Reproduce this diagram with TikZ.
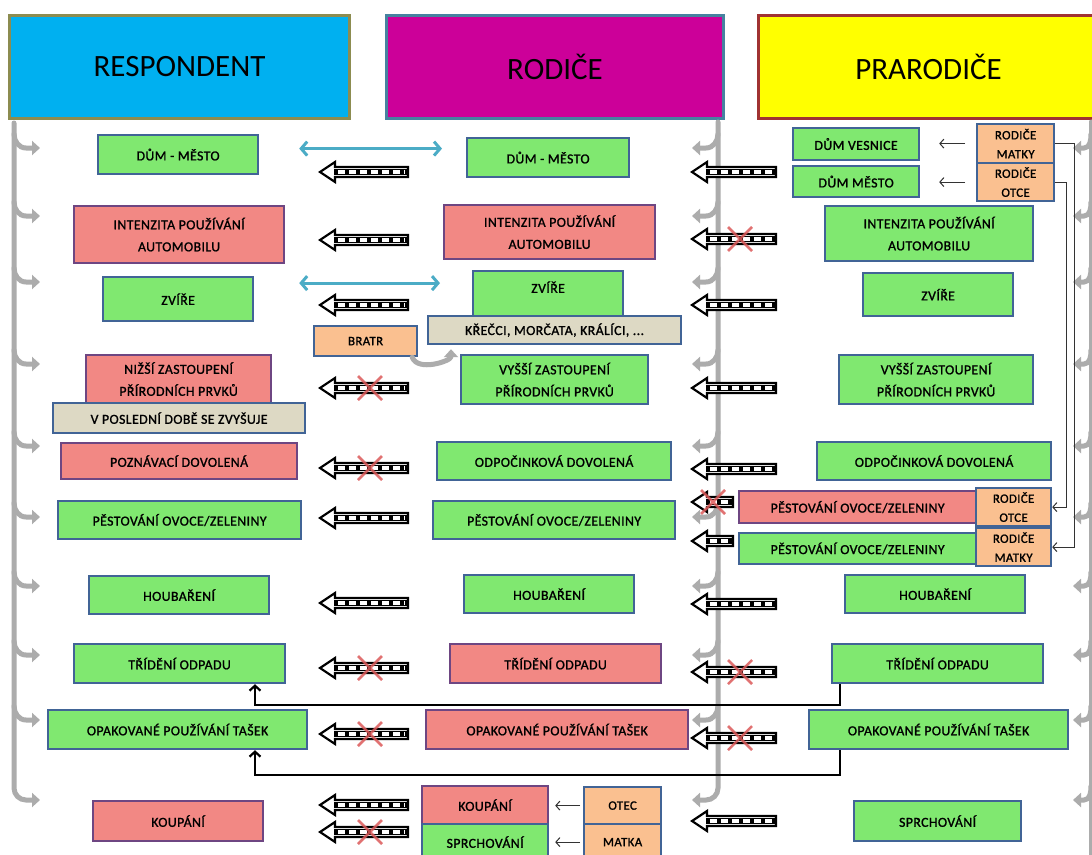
\documentclass[tikz,border=0pt]{standalone}
\usepackage{fontspec}
\setmainfont{Carlito}
\newfontfamily\boxfont[LetterSpace=3, FakeBold=1.2]{Carlito}
\usepackage{tikz}
\usetikzlibrary{arrows.meta, positioning, calc}
\definecolor{respblue}{RGB}{0, 176, 240}
\definecolor{respedge}{RGB}{140, 140, 80}
\definecolor{rodmag}{RGB}{204, 0, 153}
\definecolor{rodedge}{RGB}{70, 130, 160}
\definecolor{prayel}{RGB}{255, 255, 0}
\definecolor{praedge}{RGB}{160, 50, 50}
\definecolor{goodgreen}{RGB}{128, 232, 112}
\definecolor{badred}{RGB}{242, 136, 132}
\definecolor{badedge}{RGB}{110, 70, 130}
\definecolor{boxblue}{RGB}{65, 100, 150}
\definecolor{notebeige}{RGB}{221, 217, 196}
\definecolor{whoorange}{RGB}{250, 192, 144}
\definecolor{linkcyan}{RGB}{75, 172, 198}
\definecolor{crossred}{RGB}{220, 90, 90}
\tikzstyle{head} = [rectangle, line width=3, inner sep=0, anchor=north west, font=\fontsize{31}{36}\selectfont]
\tikzstyle{box} = [rectangle, draw=boxblue, line width=2.2, inner sep=0, anchor=north west, align=center, font=\boxfont\fontsize{13.8}{22}\selectfont]
\tikzstyle{good} = [box, fill=goodgreen]
\tikzstyle{bad} = [box, fill=badred, draw=badedge]
\tikzstyle{note} = [box, fill=notebeige]
\tikzstyle{who} = [box, fill=whoorange, font=\boxfont\fontsize{12.8}{19}\selectfont]
\tikzstyle{bracket} = [draw=gray!65, line width=5, line cap=round]
\tikzstyle{branch} = [bracket, -{Triangle[length=8pt,width=14pt]}]
\tikzstyle{twoway} = [draw=linkcyan, line width=3, {Straight Barb[length=6pt,width=14pt]}-{Straight Barb[length=6pt,width=14pt]}]
\tikzstyle{elbow} = [draw=black, line width=2.2, -{Straight Barb[length=5pt,width=11pt]}]
\tikzstyle{thinarrow} = [draw=black!80, line width=1, -{Straight Barb[length=4pt,width=9pt]}]
\tikzstyle{cross} = [draw=crossred, line width=2.5, opacity=0.85]
\tikzstyle{stripeout} = [draw=black, line width=2.2, fill=white, line join=miter]
\tikzstyle{stripefill} = [draw=black, line width=6]
\tikzstyle{stripedash} = [draw=white, line width=3.4, dash pattern=on 7pt off 4pt]
% striped arrow: tip coordinate, length
\newcommand{\stripearrow}[2]{%
  \draw[stripeout] (#1) -- ++(15,-10) -- ++(0,5) -- ++(#2-15,0) -- ++(0,10) -- ++(15-#2,0) -- ++(0,5) -- cycle;
  \draw[stripefill] ([xshift=14]#1) -- ++(#2-15,0);
  \draw[stripedash] ([xshift=18]#1) -- ++(#2-21,0);
}
\newcommand{\crossmark}[1]{%
  \draw[cross] ([shift={(-12,-12)}]#1) -- ([shift={(12,12)}]#1)
               ([shift={(-12,12)}]#1) -- ([shift={(12,-12)}]#1);
}

\begin{document}
\begin{tikzpicture}[x=1pt, y=-1pt]
    \useasboundingbox (0,0) rectangle (1092,854);
    \fill[white] (0,0) rectangle (1092,854);

    % Headers
    \node[head, fill=respblue, draw=respedge, minimum width=340, minimum height=103] (hresp) at (8,14) {RESPONDENT};
    \node[head, fill=rodmag, draw=rodedge, minimum width=337, minimum height=103] (hrod) at (385,14) {RODIČE};
    \node[head, fill=prayel, draw=praedge, minimum width=340, minimum height=103] (hpra) at (757,14) {PRARODIČE};

    % Gray brackets
    \draw[branch] (14,123) -- (14,788) to[out=-90,in=180] (26,800) -- (40,800);
    \draw[branch] (718,122) -- (718,788) to[out=-90,in=0] (706,800) -- (692,800);
    \draw[bracket] (1091,122) -- (1091,854);
    \foreach \yy in {148,216,282,364,446,517,586,655,720} {
        \draw[branch] (14,\yy-14) to[out=-90,in=180] (26,\yy) -- (40,\yy);
        \draw[branch] (718,\yy-14) to[out=-90,in=0] (706,\yy) -- (692,\yy);
    }
    \foreach \yy in {148,216,282,364,446,517,586,655,720,800}
        \draw[branch] (1091,\yy-14) to[out=-90,in=0] (1084,\yy) -- (1073,\yy);

    % Respondent
    \node[good, minimum width=160, minimum height=39] (r1) at (97,134) {DŮM - MĚSTO};
    \node[bad, minimum width=210, minimum height=57] (r2) at (73,205) {INTENZITA POUŽÍVÁNÍ\\AUTOMOBILU};
    \node[good, minimum width=150, minimum height=44] (r3) at (102,276) {ZVÍŘE};
    \node[bad, minimum width=185, minimum height=48] (r4) at (85,354) {NIŽŠÍ ZASTOUPENÍ\\PŘÍRODNÍCH PRVKŮ};
    \node[note, minimum width=252, minimum height=30] (r4n) at (52,402) {V POSLEDNÍ DOBĚ SE ZVYŠUJE};
    \node[bad, minimum width=236, minimum height=36] (r5) at (60,442) {POZNÁVACÍ DOVOLENÁ};
    \node[good, minimum width=243, minimum height=38] (r6) at (57,500) {PĚSTOVÁNÍ OVOCE/ZELENINY};
    \node[good, minimum width=180, minimum height=38] (r7) at (88,575) {HOUBAŘENÍ};
    \node[good, minimum width=211, minimum height=39] (r8) at (73,643) {TŘÍDĚNÍ ODPADU};
    \node[good, minimum width=259, minimum height=39] (r9) at (47,709) {OPAKOVANÉ POUŽÍVÁNÍ TAŠEK};
    \node[bad, minimum width=170, minimum height=40] (r10) at (92,800) {KOUPÁNÍ};

    % Rodice
    \node[good, minimum width=162, minimum height=39] (p1) at (466,137) {DŮM - MĚSTO};
    \node[bad, minimum width=211, minimum height=54] (p2) at (443,204) {INTENZITA POUŽÍVÁNÍ\\AUTOMOBILU};
    \node[good, minimum width=150, minimum height=46, text depth=14] (p3) at (472,270) {ZVÍŘE};
    \node[note, minimum width=253, minimum height=28] (p3n) at (427,315) {KŘEČCI, MORČATA, KRÁLÍCI, ...};
    \node[who, minimum width=103, minimum height=30] (bratr) at (313,325) {BRATR};
    \node[good, minimum width=187, minimum height=49] (p4) at (460,354) {VYŠŠÍ ZASTOUPENÍ\\PŘÍRODNÍCH PRVKŮ};
    \node[good, minimum width=234, minimum height=38] (p5) at (436,441) {ODPOČINKOVÁ DOVOLENÁ};
    \node[good, minimum width=242, minimum height=38] (p6) at (432,500) {PĚSTOVÁNÍ OVOCE/ZELENINY};
    \node[good, minimum width=170, minimum height=38] (p7) at (463,574) {HOUBAŘENÍ};
    \node[bad, minimum width=211, minimum height=39] (p8) at (449,643) {TŘÍDĚNÍ ODPADU};
    \node[bad, minimum width=262, minimum height=39] (p9) at (425,709) {OPAKOVANÉ POUŽÍVÁNÍ TAŠEK};
    \node[bad, minimum width=126, minimum height=38] (p10) at (421,785) {KOUPÁNÍ};
    \node[good, minimum width=126, minimum height=36] (p11) at (421,823) {SPRCHOVÁNÍ};
    \node[who, minimum width=77, minimum height=37] (otec) at (583,786) {OTEC};
    \node[who, minimum width=77, minimum height=36] (matka) at (583,823) {MATKA};

    % Prarodice
    \node[good, minimum width=126, minimum height=32] (g1a) at (792,127) {DŮM VESNICE};
    \node[good, minimum width=126, minimum height=31] (g1b) at (792,165) {DŮM MĚSTO};
    \node[who, minimum width=77, minimum height=39] (gm1) at (976,123) {RODIČE\\MATKY};
    \node[who, minimum width=77, minimum height=38] (go1) at (976,162) {RODIČE\\OTCE};
    \node[good, minimum width=208, minimum height=55] (g2) at (824,205) {INTENZITA POUŽÍVÁNÍ\\AUTOMOBILU};
    \node[good, minimum width=150, minimum height=43] (g3) at (862,272) {ZVÍŘE};
    \node[good, minimum width=194, minimum height=49] (g4) at (838,354) {VYŠŠÍ ZASTOUPENÍ\\PŘÍRODNÍCH PRVKŮ};
    \node[good, minimum width=234, minimum height=38] (g5) at (816,441) {ODPOČINKOVÁ DOVOLENÁ};
    \node[bad, minimum width=237, minimum height=32] (g6a) at (738,490) {PĚSTOVÁNÍ OVOCE/ZELENINY};
    \node[good, minimum width=237, minimum height=31] (g6b) at (738,532) {PĚSTOVÁNÍ OVOCE/ZELENINY};
    \node[who, minimum width=75, minimum height=38] (go2) at (975,487) {RODIČE\\OTCE};
    \node[who, minimum width=75, minimum height=38] (gm2) at (975,527) {RODIČE\\MATKY};
    \node[good, minimum width=180, minimum height=38] (g7) at (844,574) {HOUBAŘENÍ};
    \node[good, minimum width=211, minimum height=39] (g8) at (831,643) {TŘÍDĚNÍ ODPADU};
    \node[good, minimum width=259, minimum height=39] (g9) at (808,709) {OPAKOVANÉ POUŽÍVÁNÍ TAŠEK};
    \node[good, minimum width=167, minimum height=40] (g10) at (853,800) {SPRCHOVÁNÍ};

    % Striped arrows
    \foreach \nm/\yy in {1/172,2/240,3/305,4/388,5/468,6/518,7/603,8/668,9/734,10/805,11/832} {
        \coordinate (sl\nm) at (320,\yy);
        \stripearrow{sl\nm}{88}
    }
    \foreach \nm/\yy/\len in {1/172/84,2/239/84,3/305/84,4/388/84,5/469/84,6/502/41,7/541/41,8/604/84,9/672/84,10/738/84,11/821/84} {
        \coordinate (sr\nm) at (692,\yy);
        \stripearrow{sr\nm}{\len}
    }

    % Crosses
    \foreach \nm/\xx/\yy in {a/370/388,b/370/468,c/370/668,d/370/734,e/370/832,f/740/239,g/713/502,h/740/672,i/740/738} {
        \coordinate (cx\nm) at (\xx,\yy);
        \crossmark{cx\nm}
    }

    % Arrows
    \draw[twoway, shorten <=40, shorten >=24] ([yshift=6]r1.east) -- ([yshift=6]r1.east -| p1.west);
    \draw[twoway, shorten <=45, shorten >=32] ([yshift=16]r3.east) -- ([yshift=16]r3.east -| p3.west);
    \draw[branch, shorten >=4] ([xshift=-6]bratr.south east) to[out=-70,in=-90] ([xshift=24]p3n.south west);
    \draw[thinarrow, shorten <=11, shorten >=19] (gm1.west) -- (gm1.west -| g1a.east);
    \draw[thinarrow, shorten <=11, shorten >=19] (go1.west) -- (go1.west -| g1b.east);
    \draw[thinarrow, shorten <=3, shorten >=6] (otec.west) -- (otec.west -| p10.east);
    \draw[thinarrow, shorten <=3, shorten >=6] (matka.west) -- (matka.west -| p11.east);
    \draw[thinarrow] (gm1.east) -- ++(19,0) |- (gm2.east);
    \draw[thinarrow] (go1.east) -- ++(11,0) |- (go2.east);
    \draw[elbow] ([xshift=9]g8.south west) -- ++(0,21) -| ([xshift=182]r8.south west);
    \draw[elbow] ([xshift=32]g9.south west) -- ++(0,25) -| ([xshift=208]r9.south west);
\end{tikzpicture}
\end{document}
